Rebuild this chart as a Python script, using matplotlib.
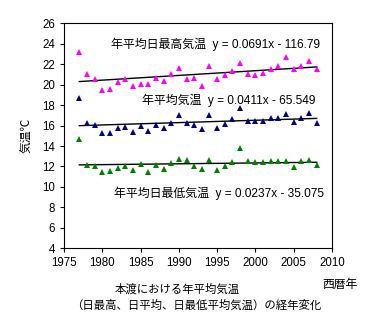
import matplotlib
matplotlib.use('Agg')
import matplotlib.pyplot as plt
import numpy as np

plt.rcParams['font.family'] = ['Liberation Sans', 'Noto Sans CJK JP', 'DejaVu Sans']

# years and yearly temperatures
years = np.arange(1977, 2009)
t_max = [23.2, 21.0, 20.6, 19.5, 19.6, 20.3, 20.6, 19.9, 20.1, 20.1,
         20.7, 20.4, 21.0, 21.6, 20.6, 20.7, 19.9, 21.8, 20.6, 20.9,
         21.3, 22.1, 21.0, 20.9, 21.1, 21.5, 21.8, 22.7, 21.5, 21.8,
         22.3, 21.5]
t_mean = [18.7, 16.3, 16.1, 15.3, 15.3, 15.8, 15.9, 15.4, 15.95, 15.5,
          16.1, 15.8, 16.3, 17.0, 16.3, 16.1, 15.7, 17.0, 15.8, 16.2,
          16.6, 17.7, 16.4, 16.4, 16.4, 16.7, 16.7, 17.1, 16.35, 16.7,
          17.2, 16.3]
t_min = [14.7, 12.1, 12.05, 11.5, 11.6, 11.9, 12.05, 11.7, 12.2, 11.5,
         12.1, 11.8, 12.3, 12.7, 12.6, 12.05, 11.75, 12.6, 11.65, 12.0,
         12.4, 13.8, 12.55, 12.4, 12.4, 12.55, 12.5, 12.5, 11.95, 12.5,
         12.6, 12.1]

labels = ['年平均日最高気温  y = 0.0691x - 116.79',
          '年平均気温  y = 0.0411x - 65.549',
          '年平均日最低気温  y = 0.0237x - 35.075']
colors = ['#FF00FF', '#000080', '#008000']

fig = plt.figure(figsize=(3.73, 3.25), dpi=100)
ax = fig.add_axes([64/373, 1-248.3/325, (332-64)/373, (248.3-23.3)/325])

for vals, c in zip([t_max, t_mean, t_min], colors):
    ax.plot(years, vals, '^', color=c, markersize=5, markeredgewidth=0, zorder=3)
    k, b = np.polyfit(years, vals, 1)
    ax.plot(years, k*years + b, color='black', linewidth=1, zorder=2)

# trend equations
ax.text(2008.5, 23.9, labels[0], ha='right', va='center', fontsize=8.6)
ax.text(2007.9, 18.5, labels[1], ha='right', va='center', fontsize=8.6)
ax.text(2008.9, 9.4, labels[2], ha='right', va='center', fontsize=8.6)

ax.set_xlim(1975, 2010)
ax.set_ylim(4, 26)
ax.set_xticks(np.arange(1975, 2011, 5))
ax.set_yticks(np.arange(4, 27, 2))
ax.tick_params(direction='out', length=3, width=0.8, labelsize=8.3)
for s in ax.spines.values():
    s.set_linewidth(0.8)
ax.set_ylabel('気温℃', fontsize=8.5, labelpad=6)

fig.text(340/373, 1-285/325, '西暦年', ha='center', va='center', fontsize=8.5)
fig.text(177/373, 1-289/325, '本渡における年平均気温', ha='center', va='center', fontsize=8.2)
fig.text(196/373, 1-305/325, '（日最高、日平均、日最低平均気温）の経年変化',
         ha='center', va='center', fontsize=8.2)

fig.savefig('out.png', dpi=100)
